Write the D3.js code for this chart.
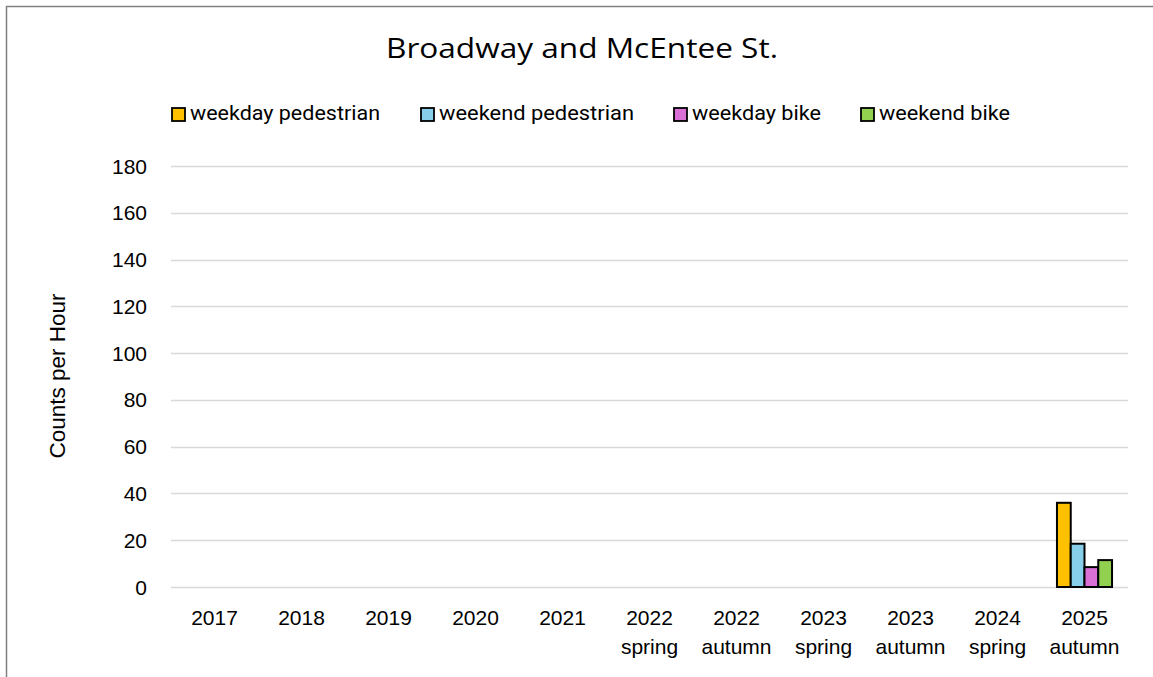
<!DOCTYPE html>
<html>
<head>
<meta charset="utf-8">
<script src="https://cdn.jsdelivr.net/npm/d3@7"></script>
<style>
  body { margin: 0; background: #fff; }
  svg { display: block; }
</style>
</head>
<body>
<script>
const categories = [["2017"], ["2018"], ["2019"], ["2020"], ["2021"], ["2022", "spring"], ["2022", "autumn"], ["2023", "spring"], ["2023", "autumn"], ["2024", "spring"], ["2025", "autumn"]];
const seriesNames = ["weekday pedestrian", "weekend pedestrian", "weekday bike", "weekend bike"];
const seriesColors = ["#FFC000", "#87CEEB", "#DA70D6", "#92D050"];
const weekdayPedestrian = [null, null, null, null, null, null, null, null, null, null, 36];
const weekendPedestrian = [null, null, null, null, null, null, null, null, null, null, 18.5];
const weekdayBike = [null, null, null, null, null, null, null, null, null, null, 8.5];
const weekendBike = [null, null, null, null, null, null, null, null, null, null, 11.5];
const yTicks = [0, 20, 40, 60, 80, 100, 120, 140, 160, 180];

const series = [weekdayPedestrian, weekendPedestrian, weekdayBike, weekendBike];
const W = 1153, H = 677;
const svg = d3.select("body").append("svg").attr("width", W).attr("height", H);

// outer border
svg.append("rect").attr("x", 6.5).attr("y", 6.5).attr("width", W + 10).attr("height", H + 10)
  .attr("fill", "none").attr("stroke", "#808080").attr("stroke-width", 1.5);

const plot = { left: 171, right: 1128, top: 166, bottom: 587 };
const catKeys = categories.map(c => c.join(" "));
const x = d3.scaleBand().domain(catKeys).range([plot.left, plot.right]).paddingInner(0).paddingOuter(0);
const y = d3.scaleLinear().domain([0, 180]).range([plot.bottom, plot.top]);
const xs = d3.scaleBand().domain(d3.range(series.length)).range([0, x.bandwidth()]).paddingOuter(1.16).paddingInner(0);

const tickFont = "Liberation Sans, Arial, sans-serif";

// gridlines
svg.append("g").selectAll("line").data(yTicks).join("line")
  .attr("x1", plot.left).attr("x2", plot.right)
  .attr("y1", d => Math.round(y(d)) + 0.5).attr("y2", d => Math.round(y(d)) + 0.5)
  .attr("stroke", "#d9d9d9").attr("stroke-width", 1.3);

// y tick labels
svg.append("g").selectAll("text").data(yTicks).join("text")
  .attr("x", 147).attr("y", d => y(d)).attr("dy", "0.36em")
  .attr("text-anchor", "end")
  .attr("font-family", tickFont).attr("font-size", 21).attr("fill", "#000")
  .text(d => d);

// bars
series.forEach((vals, si) => {
  svg.append("g").selectAll("rect").data(vals.map((v, i) => ({ v, i })).filter(d => d.v != null)).join("rect")
    .attr("x", d => x(catKeys[d.i]) + xs(si))
    .attr("width", xs.bandwidth())
    .attr("y", d => y(d.v))
    .attr("height", d => y(0) - y(d.v))
    .attr("fill", seriesColors[si]).attr("stroke", "#000").attr("stroke-width", 2);
});

// x labels
const xl = svg.append("g");
categories.forEach((lines, i) => {
  const cx = x(catKeys[i]) + x.bandwidth() / 2;
  const t = xl.append("text")
    .attr("x", cx).attr("y", 625)
    .attr("text-anchor", "middle")
    .attr("font-family", tickFont).attr("font-size", 21).attr("fill", "#000");
  lines.forEach((ln, j) => {
    t.append("tspan").attr("x", cx).attr("dy", j === 0 ? 0 : 29).text(ln);
  });
});

// y axis title
svg.append("text")
  .attr("transform", "translate(65,376) rotate(-90)")
  .attr("text-anchor", "middle")
  .attr("font-family", tickFont).attr("font-size", 22.5).attr("fill", "#000")
  .text("Counts per Hour");

// title
svg.append("text")
  .attr("x", 582).attr("y", 58)
  .attr("text-anchor", "middle")
  .attr("font-family", "Open Sans, Liberation Sans, sans-serif").attr("font-size", 28).attr("fill", "#000")
  .attr("textLength", 392).attr("lengthAdjust", "spacingAndGlyphs")
  .text("Broadway and McEntee St.");

// legend
const legendX = [172, 421, 674, 861];
const legendW = [190, 195, 129, 131];
const lg = svg.append("g");
seriesNames.forEach((name, i) => {
  lg.append("rect").attr("x", legendX[i]).attr("y", 108).attr("width", 13).attr("height", 13)
    .attr("fill", seriesColors[i]).attr("stroke", "#000").attr("stroke-width", 1.8);
  lg.append("text").attr("x", legendX[i] + 18).attr("y", 120)
    .attr("font-family", "Roboto, sans-serif").attr("font-size", 21).attr("fill", "#000")
    .attr("textLength", legendW[i]).attr("lengthAdjust", "spacingAndGlyphs")
    .text(name);
});
</script>
</body>
</html>
